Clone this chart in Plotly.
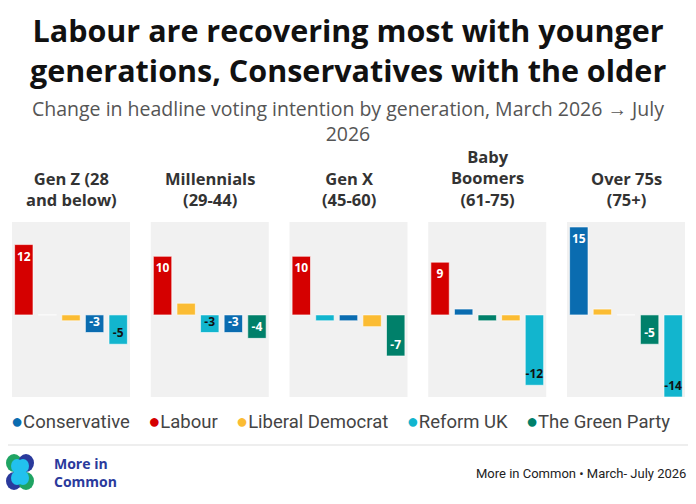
import plotly.graph_objects as go
from plotly.subplots import make_subplots

# panel titles (one per generation)
generations = ["Gen Z (28<br>and below)", "Millennials<br>(29-44)", "Gen X<br>(45-60)",
               "Baby<br>Boomers<br>(61-75)", "Over 75s<br>(75+)"]
parties = ["Conservative", "Labour", "Liberal Democrat", "Reform UK", "The Green Party"]
party_colors = ["#0a6cb0", "#d50000", "#fbbc33", "#12b5ce", "#00806a"]
label_colors = ["white", "white", "#222222", "#111111", "white"]

# change in headline VI (pts), March -> July 2026, by generation
conservative = [-3, -3, -1, 1, 15]
labour = [12, 10, 10, 9, 0]
lib_dem = [-1, 2, -2, -1, 1]
reform = [-5, -3, -1, -12, -14]
green = [0, -4, -7, -1, -5]
series = [conservative, labour, lib_dem, reform, green]

title = "<b>Labour are recovering most with younger<br>generations, Conservatives with the older</b>"
subtitle = "Change in headline voting intention by generation, March 2026 → July<br>2026"

W, H = 696, 504
fig = make_subplots(rows=1, cols=5)

panel_w = 118
for g in range(len(generations)):
    vals = [s[g] for s in series]
    # bars sorted high -> low inside each panel
    order = sorted(range(len(parties)), key=lambda p: (-vals[p], -p))
    ys = [vals[p] for p in order]
    fig.add_trace(go.Bar(
        x=list(range(len(order))), y=ys,
        marker=dict(color=[party_colors[p] for p in order],
                    line=dict(color="rgba(255,255,255,0.6)", width=1)),
        width=0.78,
        text=[f"<b>{v}</b>" if abs(v) >= 3 else "" for v in ys],
        textposition="inside", insidetextanchor="end", constraintext="none", textangle=0,
        textfont=dict(family="Open Sans", size=12, color=[label_colors[p] for p in order]),
        showlegend=False, hoverinfo="skip", cliponaxis=False,
    ), row=1, col=g + 1)

    x0 = (12 + g * 138.75) / W
    ax = "xaxis" if g == 0 else f"xaxis{g + 1}"
    ay = "yaxis" if g == 0 else f"yaxis{g + 1}"
    fig.layout[ax].update(domain=[x0, x0 + panel_w / W], range=[-0.5, 4.5],
                          visible=False, fixedrange=True)
    fig.layout[ay].update(domain=[1 - 397 / H, 1 - 222 / H], range=[-14, 15.85],
                          visible=False, fixedrange=True)
    fig.add_annotation(x=x0 + panel_w / W / 2, y=1 - 213 / H, xref="paper", yref="paper",
                       text=f"<b>{generations[g]}</b>", showarrow=False,
                       xanchor="center", yanchor="bottom",
                       font=dict(family="Open Sans", size=16.5, color="#333333"))

# title and subtitle
fig.add_annotation(x=0.5, y=1 - 7 / H, xref="paper", yref="paper", showarrow=False,
                   text=title, xanchor="center", yanchor="top",
                   font=dict(family="Open Sans", size=30.5, color="#111111"))
fig.add_annotation(x=0.5, y=1 - 93 / H, xref="paper", yref="paper", showarrow=False,
                   text=subtitle, xanchor="center", yanchor="top",
                   font=dict(family="Open Sans", size=19.5, color="#555555"))

# legend row
legend_text = "\u00a0\u00a0\u00a0\u00a0".join(
    f"<span style='color:{c};font-size:20px'>●</span>{n}" for n, c in zip(parties, party_colors))
fig.add_annotation(x=9 / W, y=1 - 421 / H, xref="paper", yref="paper", showarrow=False,
                   text=legend_text, xanchor="left", yanchor="middle",
                   font=dict(family="Roboto", size=18.5, color="#444444"))

# separator + footer
fig.add_shape(type="line", xref="paper", yref="paper", x0=8 / W, x1=688 / W,
              y0=1 - 445 / H, y1=1 - 445 / H, line=dict(color="#dddddd", width=1))

# logo: four overlapping circles
logo = [(14, 463, "#1fa463"), (26, 463, "#2a3a9c"), (14, 481, "#2a3a9c"), (26, 481, "#1fa463")]
for cx, cy, col in logo:
    fig.add_shape(type="circle", xref="paper", yref="paper", line_width=0, fillcolor=col,
                  x0=(cx - 8) / W, x1=(cx + 8) / W, y0=1 - (cy + 9) / H, y1=1 - (cy - 9) / H)
for cx, cy, col in logo:
    dx = 3 if cx < 20 else -3
    dy = 3 if cy < 472 else -3
    fig.add_shape(type="circle", xref="paper", yref="paper", line_width=0, fillcolor="#22c1ee",
                  x0=(cx + dx - 6) / W, x1=(cx + dx + 6) / W,
                  y0=1 - (cy + dy + 7) / H, y1=1 - (cy + dy - 7) / H)
fig.add_annotation(x=52 / W, y=1 - 472 / H, xref="paper", yref="paper", showarrow=False,
                   text="<b>More in<br>Common</b>", xanchor="left", yanchor="middle", align="left",
                   font=dict(family="Open Sans", size=14, color="#2a3a9c"))
fig.add_annotation(x=688 / W, y=1 - 473 / H, xref="paper", yref="paper", showarrow=False,
                   text="More in Common • March- July 2026", xanchor="right", yanchor="middle",
                   font=dict(family="Roboto", size=13, color="#222222"))

fig.update_layout(width=W, height=H, margin=dict(l=0, r=0, t=0, b=0),
                  paper_bgcolor="white", plot_bgcolor="#f1f1f1", bargap=0.2)
fig.write_html("out.html", config={"displayModeBar": False},
               post_script="document.body.style.margin='0';")
